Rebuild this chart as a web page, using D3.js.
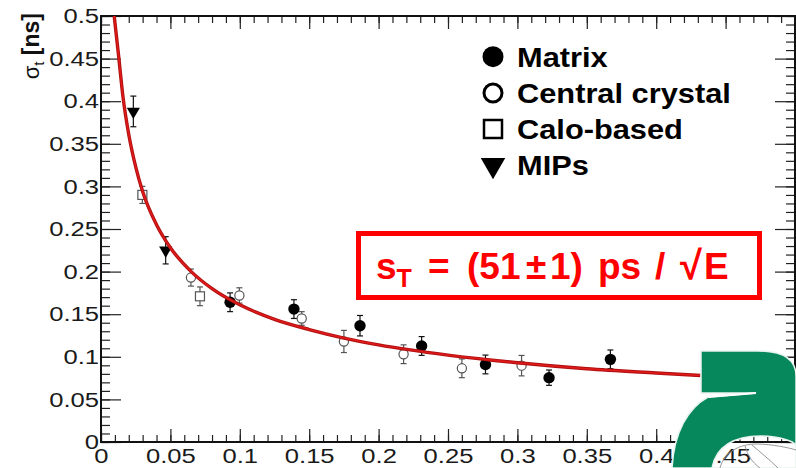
<!DOCTYPE html>
<html>
<head>
<meta charset="utf-8">
<script src="https://cdn.jsdelivr.net/npm/d3@7"></script>
<style>
  body { margin: 0; background: #fff; }
  svg text { font-family: "Liberation Sans", Arial, Helvetica, sans-serif; }
</style>
</head>
<body>
<div id="chart"></div>
<script>
// data (x = energy, y = sigma_t in ns)
const matrixX = [0.093, 0.139, 0.1866, 0.231, 0.277, 0.3228, 0.367];
const matrixY = [0.164, 0.156, 0.1365, 0.1127, 0.091, 0.0755, 0.097];
const matrixErr = [0.011, 0.011, 0.012, 0.011, 0.011, 0.009, 0.011];

const centralX = [0.0648, 0.0997, 0.1446, 0.175, 0.218, 0.26, 0.303];
const centralY = [0.193, 0.172, 0.145, 0.118, 0.103, 0.0865, 0.0896];
const centralErr = [0.01, 0.009, 0.008, 0.013, 0.011, 0.011, 0.012];

const caloX = [0.0298, 0.0713];
const caloY = [0.29, 0.171];
const caloErr = [0.01, 0.011];

const mipX = [0.0233, 0.0466];
const mipY = [0.388, 0.225];
const mipErr = [0.018, 0.016];

// fitted curve
const fitX = [0.0095, 0.0125, 0.016, 0.02, 0.025, 0.03, 0.04, 0.05, 0.065, 0.08, 0.1, 0.125, 0.15, 0.175, 0.2, 0.25, 0.3, 0.35, 0.4, 0.432];
const fitY = [0.5, 0.456, 0.403, 0.361, 0.323, 0.294, 0.255, 0.228, 0.2, 0.18, 0.161, 0.144, 0.132, 0.122, 0.114, 0.102, 0.093, 0.086, 0.081, 0.078];

const xTicks = [0, 0.05, 0.1, 0.15, 0.2, 0.25, 0.3, 0.35, 0.4, 0.45];
const yTicks = [0, 0.05, 0.1, 0.15, 0.2, 0.25, 0.3, 0.35, 0.4, 0.45, 0.5];
const legendLabels = ["Matrix", "Central crystal", "Calo-based", "MIPs"];

const margin = { top: 16, right: 1, bottom: 26, left: 101 };
const width = 796 - margin.left - margin.right;
const height = 468 - margin.top - margin.bottom;

const svg = d3.select("#chart").append("svg")
    .attr("width", 796)
    .attr("height", 468);

const g = svg.append("g")
    .attr("transform", `translate(${margin.left},${margin.top})`);

const x = d3.scaleLinear().domain([0, 0.5]).range([0, width]);
const y = d3.scaleLinear().domain([0, 0.5]).range([height, 0]);

const fmt = d => d === 0 ? "0" : String(+d.toFixed(2));
const minor = d3.range(0, 0.5001, 0.01);
const stretch = 1.22; // the labels in the picture are drawn wide

function styleAxis(sel) {
    sel.select(".domain").remove();
    sel.selectAll("line").attr("stroke", "#222").attr("stroke-width", 1.2);
    sel.selectAll("text").attr("fill", "#1a1a1a").style("font-size", "21px");
}

// widen a label around its own anchor
function widen(sel) {
    sel.selectAll("text").each(function() {
        const t = d3.select(this);
        const x0 = +t.attr("x") || 0;
        t.attr("x", 0).attr("transform", `translate(${x0},0) scale(${stretch},1)`);
    });
}

// bottom axis
g.append("g").attr("transform", `translate(0,${height})`)
    .call(d3.axisBottom(x).tickValues(minor).tickSize(-7).tickFormat(""))
    .call(styleAxis);
g.append("g").attr("transform", `translate(0,${height})`)
    .call(d3.axisBottom(x).tickValues(xTicks.concat([0.5])).tickSize(-13).tickPadding(6)
        .tickFormat(d => d === 0.5 ? "" : fmt(d)))
    .call(styleAxis)
    .call(widen);
// top axis
g.append("g")
    .call(d3.axisTop(x).tickValues(minor).tickSize(-7).tickFormat(""))
    .call(styleAxis);
g.append("g")
    .call(d3.axisTop(x).tickValues(xTicks.concat([0.5])).tickSize(-13).tickFormat(""))
    .call(styleAxis);
// left axis
g.append("g")
    .call(d3.axisLeft(y).tickValues(minor).tickSize(-9).tickFormat(""))
    .call(styleAxis);
g.append("g")
    .call(d3.axisLeft(y).tickValues(yTicks).tickSize(-20).tickPadding(2).tickFormat(fmt))
    .call(styleAxis)
    .call(widen);
// right axis
g.append("g").attr("transform", `translate(${width},0)`)
    .call(d3.axisRight(y).tickValues(minor).tickSize(-9).tickFormat(""))
    .call(styleAxis);
g.append("g").attr("transform", `translate(${width},0)`)
    .call(d3.axisRight(y).tickValues(yTicks).tickSize(-20).tickFormat(""))
    .call(styleAxis);

// frame
g.append("rect")
    .attr("width", width).attr("height", height)
    .attr("fill", "none").attr("stroke", "#111").attr("stroke-width", 2);

// y title
const yt = svg.append("text")
    .attr("transform", "translate(39,13) rotate(-90)")
    .attr("text-anchor", "end")
    .attr("fill", "#111");
yt.append("tspan").text("σ").style("font-size", "22px");
yt.append("tspan").text("t").style("font-size", "15px").attr("dy", 5);
yt.append("tspan").text(" [ns]").style("font-size", "23px").style("font-weight", "bold").attr("dy", -5);

// error bars + markers
function errorBars(xs, ys, es, color) {
    const eb = g.append("g").attr("stroke", color).attr("stroke-width", 1.2);
    xs.forEach((xv, i) => {
        const px = x(xv), lo = y(ys[i] - es[i]), hi = y(ys[i] + es[i]);
        eb.append("line").attr("x1", px).attr("x2", px).attr("y1", lo).attr("y2", hi);
        eb.append("line").attr("x1", px - 3).attr("x2", px + 3).attr("y1", lo).attr("y2", lo);
        eb.append("line").attr("x1", px - 3).attr("x2", px + 3).attr("y1", hi).attr("y2", hi);
    });
}

errorBars(centralX, centralY, centralErr, "#555");
errorBars(caloX, caloY, caloErr, "#555");
errorBars(matrixX, matrixY, matrixErr, "#111");
errorBars(mipX, mipY, mipErr, "#111");

g.append("g").selectAll("circle")
    .data(centralX).enter().append("circle")
    .attr("cx", d => x(d)).attr("cy", (d, i) => y(centralY[i]))
    .attr("r", 4.6).attr("fill", "#fff").attr("stroke", "#555").attr("stroke-width", 1.2);

g.append("g").selectAll("rect")
    .data(caloX).enter().append("rect")
    .attr("x", d => x(d) - 4.5).attr("y", (d, i) => y(caloY[i]) - 4.5)
    .attr("width", 9).attr("height", 9)
    .attr("fill", "#fff").attr("stroke", "#555").attr("stroke-width", 1.2);

g.append("g").selectAll("circle")
    .data(matrixX).enter().append("circle")
    .attr("cx", d => x(d)).attr("cy", (d, i) => y(matrixY[i]))
    .attr("r", 5.7).attr("fill", "#000");

const tri = d3.symbol().type(d3.symbolTriangle).size(75);
g.append("g").selectAll("path")
    .data(mipX).enter().append("path")
    .attr("d", tri)
    .attr("transform", (d, i) => `translate(${x(d)},${y(mipY[i])}) rotate(180)`)
    .attr("fill", "#000");

// fit curve
const line = d3.line()
    .x(d => x(d))
    .y((d, i) => y(fitY[i]))
    .curve(d3.curveMonotoneX);
g.append("path").datum(fitX)
    .attr("d", line)
    .attr("fill", "none").attr("stroke", "#b01010").attr("stroke-width", 3.4);
g.append("path").datum(fitX)
    .attr("d", line)
    .attr("fill", "none").attr("stroke", "#e01a1a").attr("stroke-width", 1.5);

// legend
const leg = svg.append("g");
const legY = [56.7, 93, 129, 165];
legendLabels.forEach((lab, i) => {
    leg.append("text")
        .attr("transform", `translate(517,${legY[i] + 10}) scale(1.08,1)`)
        .style("font-size", "28.5px").style("font-weight", "bold")
        .attr("fill", "#000")
        .text(lab);
});
leg.append("circle").attr("cx", 493).attr("cy", legY[0]).attr("r", 10.5).attr("fill", "#000");
leg.append("circle").attr("cx", 493).attr("cy", legY[1]).attr("r", 9).attr("fill", "#fff")
    .attr("stroke", "#000").attr("stroke-width", 3);
leg.append("rect").attr("x", 484).attr("y", legY[2] - 9).attr("width", 18).attr("height", 18)
    .attr("fill", "#fff").attr("stroke", "#000").attr("stroke-width", 2.5);
leg.append("path")
    .attr("d", d3.symbol().type(d3.symbolTriangle).size(260))
    .attr("transform", `translate(493,${legY[3]}) rotate(180)`)
    .attr("fill", "#000");

// red result box
svg.append("rect")
    .attr("x", 358.5).attr("y", 233.5).attr("width", 401).attr("height", 64)
    .attr("fill", "#fff").attr("stroke", "#f00").attr("stroke-width", 5);
const rt = svg.append("text")
    .attr("y", 279)
    .attr("fill", "#f00")
    .style("font-weight", "bold").style("font-size", "37px");
rt.append("tspan").attr("x", 376).text("s");
rt.append("tspan").text("T").style("font-size", "25px").attr("dy", 8);
rt.append("tspan").attr("x", 428).attr("dy", -8).text("=");
rt.append("tspan").attr("x", 467).text("(51");
rt.append("tspan").attr("x", 526).text("\u00b1");
rt.append("tspan").attr("x", 550).text("1)");
rt.append("tspan").attr("x", 598).text("ps");
rt.append("tspan").attr("x", 655).text("/");
rt.append("tspan").attr("x", 680).style("font-size", "40px").text("\u221a");
rt.append("tspan").attr("x", 704).text("E");

// logo in the lower right corner
const logo = svg.append("g");
logo.append("path")
    .attr("d", "M701,351 H758 Q796,351 796,376 V468 H672 C674,432 688,408 708,397 L756,393 H701 Z " +
               "M712,468 C716,446 735,436 760,436 C780,436 796,442 796,446 V468 Z")
    .attr("fill", "#07875c").attr("fill-rule", "evenodd")
    .attr("stroke", "#e8f4ee").attr("stroke-width", 1.5);
logo.append("path")
    .attr("d", "M708,397 L756,393")
    .attr("stroke", "#fff").attr("stroke-width", 2);
logo.append("path")
    .attr("d", "M720,468 C724,452 740,444 756,444 C772,444 790,448 796,450 M745,446 C748,456 752,462 760,468 M752,445 C760,452 770,460 778,468")
    .attr("fill", "none").attr("stroke", "#999").attr("stroke-width", 1);
</script>
</body>
</html>
